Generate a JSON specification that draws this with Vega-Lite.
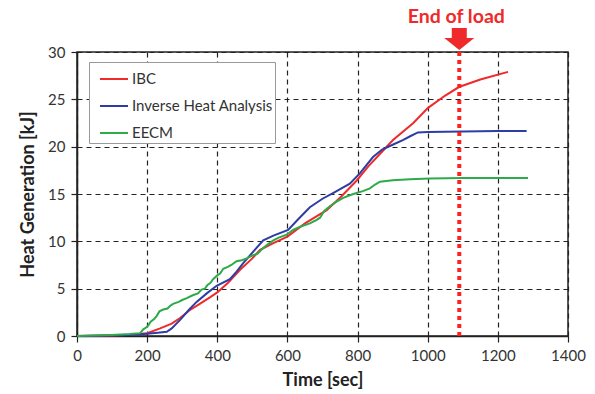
{
  "$schema": "https://vega.github.io/schema/vega-lite/v6.json",
  "autosize": "none",
  "width": 491,
  "height": 284,
  "padding": {"left": 77, "top": 52, "right": 27, "bottom": 58},
  "background": "white",
  "config": {
    "font": "Lato",
    "view": {"stroke": "#222", "strokeWidth": 1.5},
    "axis": {
      "domainColor": "#222", "domainWidth": 1.5,
      "tickColor": "#222", "tickSize": 6, "tickWidth": 1.2,
      "gridColor": "#222", "gridDash": [5, 4], "gridWidth": 1.2,
      "labelColor": "#333", "labelFont": "Lato", "labelFontSize": 15, "labelPadding": 6,
      "titleFont": "Lato", "titleFontSize": 18, "titleFontWeight": "bold", "titleColor": "#222"
    },
    "legend": {
      "labelFont": "Lato", "labelFontSize": 15, "labelColor": "#333"
    }
  },
  "datasets": {
    "curves": [
      {"t": 0, "v": 0, "s": "IBC"}, {"t": 50, "v": 0.02, "s": "IBC"}, {"t": 100, "v": 0.05, "s": "IBC"}, {"t": 150, "v": 0.12, "s": "IBC"}, {"t": 200, "v": 0.3, "s": "IBC"}, {"t": 237, "v": 0.8, "s": "IBC"}, {"t": 270, "v": 1.3, "s": "IBC"}, {"t": 294, "v": 1.9, "s": "IBC"}, {"t": 320, "v": 2.7, "s": "IBC"}, {"t": 350, "v": 3.4, "s": "IBC"}, {"t": 380, "v": 4.1, "s": "IBC"}, {"t": 400, "v": 4.6, "s": "IBC"}, {"t": 430, "v": 5.6, "s": "IBC"}, {"t": 465, "v": 7.0, "s": "IBC"}, {"t": 500, "v": 8.2, "s": "IBC"}, {"t": 522, "v": 9.1, "s": "IBC"}, {"t": 560, "v": 9.8, "s": "IBC"}, {"t": 600, "v": 10.5, "s": "IBC"}, {"t": 650, "v": 11.9, "s": "IBC"}, {"t": 712, "v": 13.3, "s": "IBC"}, {"t": 750, "v": 14.6, "s": "IBC"}, {"t": 797, "v": 16.4, "s": "IBC"}, {"t": 830, "v": 17.9, "s": "IBC"}, {"t": 873, "v": 19.6, "s": "IBC"}, {"t": 901, "v": 20.7, "s": "IBC"}, {"t": 959, "v": 22.5, "s": "IBC"}, {"t": 1001, "v": 24.1, "s": "IBC"}, {"t": 1050, "v": 25.4, "s": "IBC"}, {"t": 1089, "v": 26.3, "s": "IBC"}, {"t": 1150, "v": 27.1, "s": "IBC"}, {"t": 1229, "v": 27.9, "s": "IBC"},
      {"t": 0, "v": 0, "s": "Inverse Heat Analysis"}, {"t": 50, "v": 0.03, "s": "Inverse Heat Analysis"}, {"t": 100, "v": 0.06, "s": "Inverse Heat Analysis"}, {"t": 150, "v": 0.1, "s": "Inverse Heat Analysis"}, {"t": 200, "v": 0.25, "s": "Inverse Heat Analysis"}, {"t": 230, "v": 0.35, "s": "Inverse Heat Analysis"}, {"t": 256, "v": 0.45, "s": "Inverse Heat Analysis"}, {"t": 270, "v": 0.8, "s": "Inverse Heat Analysis"}, {"t": 294, "v": 1.7, "s": "Inverse Heat Analysis"}, {"t": 320, "v": 2.8, "s": "Inverse Heat Analysis"}, {"t": 341, "v": 3.6, "s": "Inverse Heat Analysis"}, {"t": 370, "v": 4.5, "s": "Inverse Heat Analysis"}, {"t": 398, "v": 5.3, "s": "Inverse Heat Analysis"}, {"t": 436, "v": 6.0, "s": "Inverse Heat Analysis"}, {"t": 455, "v": 6.8, "s": "Inverse Heat Analysis"}, {"t": 474, "v": 7.7, "s": "Inverse Heat Analysis"}, {"t": 500, "v": 8.8, "s": "Inverse Heat Analysis"}, {"t": 531, "v": 10.1, "s": "Inverse Heat Analysis"}, {"t": 560, "v": 10.6, "s": "Inverse Heat Analysis"}, {"t": 602, "v": 11.2, "s": "Inverse Heat Analysis"}, {"t": 630, "v": 12.3, "s": "Inverse Heat Analysis"}, {"t": 664, "v": 13.6, "s": "Inverse Heat Analysis"}, {"t": 700, "v": 14.5, "s": "Inverse Heat Analysis"}, {"t": 730, "v": 15.1, "s": "Inverse Heat Analysis"}, {"t": 778, "v": 16.1, "s": "Inverse Heat Analysis"}, {"t": 807, "v": 17.2, "s": "Inverse Heat Analysis"}, {"t": 844, "v": 18.9, "s": "Inverse Heat Analysis"}, {"t": 870, "v": 19.7, "s": "Inverse Heat Analysis"}, {"t": 900, "v": 20.2, "s": "Inverse Heat Analysis"}, {"t": 929, "v": 20.7, "s": "Inverse Heat Analysis"}, {"t": 950, "v": 21.1, "s": "Inverse Heat Analysis"}, {"t": 972, "v": 21.5, "s": "Inverse Heat Analysis"}, {"t": 1000, "v": 21.55, "s": "Inverse Heat Analysis"}, {"t": 1100, "v": 21.6, "s": "Inverse Heat Analysis"}, {"t": 1200, "v": 21.65, "s": "Inverse Heat Analysis"}, {"t": 1282, "v": 21.65, "s": "Inverse Heat Analysis"},
      {"t": 0, "v": 0, "s": "EECM"}, {"t": 50, "v": 0.05, "s": "EECM"}, {"t": 100, "v": 0.1, "s": "EECM"}, {"t": 150, "v": 0.2, "s": "EECM"}, {"t": 180, "v": 0.3, "s": "EECM"}, {"t": 189, "v": 0.7, "s": "EECM"}, {"t": 197, "v": 0.9, "s": "EECM"}, {"t": 203, "v": 1.1, "s": "EECM"}, {"t": 210, "v": 1.5, "s": "EECM"}, {"t": 220, "v": 1.8, "s": "EECM"}, {"t": 227, "v": 2.1, "s": "EECM"}, {"t": 235, "v": 2.6, "s": "EECM"}, {"t": 246, "v": 2.8, "s": "EECM"}, {"t": 258, "v": 2.9, "s": "EECM"}, {"t": 266, "v": 3.2, "s": "EECM"}, {"t": 274, "v": 3.4, "s": "EECM"}, {"t": 290, "v": 3.6, "s": "EECM"}, {"t": 300, "v": 3.8, "s": "EECM"}, {"t": 313, "v": 4.0, "s": "EECM"}, {"t": 330, "v": 4.3, "s": "EECM"}, {"t": 345, "v": 4.5, "s": "EECM"}, {"t": 355, "v": 4.9, "s": "EECM"}, {"t": 365, "v": 5.0, "s": "EECM"}, {"t": 372, "v": 5.4, "s": "EECM"}, {"t": 380, "v": 5.6, "s": "EECM"}, {"t": 388, "v": 6.0, "s": "EECM"}, {"t": 400, "v": 6.4, "s": "EECM"}, {"t": 408, "v": 6.6, "s": "EECM"}, {"t": 417, "v": 7.1, "s": "EECM"}, {"t": 430, "v": 7.3, "s": "EECM"}, {"t": 440, "v": 7.5, "s": "EECM"}, {"t": 455, "v": 7.9, "s": "EECM"}, {"t": 470, "v": 8.0, "s": "EECM"}, {"t": 484, "v": 8.2, "s": "EECM"}, {"t": 500, "v": 8.5, "s": "EECM"}, {"t": 515, "v": 8.7, "s": "EECM"}, {"t": 531, "v": 9.3, "s": "EECM"}, {"t": 545, "v": 9.7, "s": "EECM"}, {"t": 560, "v": 10.1, "s": "EECM"}, {"t": 575, "v": 10.4, "s": "EECM"}, {"t": 598, "v": 10.7, "s": "EECM"}, {"t": 616, "v": 11.2, "s": "EECM"}, {"t": 640, "v": 11.6, "s": "EECM"}, {"t": 664, "v": 11.9, "s": "EECM"}, {"t": 680, "v": 12.2, "s": "EECM"}, {"t": 693, "v": 12.5, "s": "EECM"}, {"t": 705, "v": 13.2, "s": "EECM"}, {"t": 721, "v": 13.7, "s": "EECM"}, {"t": 740, "v": 14.2, "s": "EECM"}, {"t": 759, "v": 14.6, "s": "EECM"}, {"t": 780, "v": 14.9, "s": "EECM"}, {"t": 797, "v": 15.1, "s": "EECM"}, {"t": 815, "v": 15.3, "s": "EECM"}, {"t": 835, "v": 15.6, "s": "EECM"}, {"t": 850, "v": 16.0, "s": "EECM"}, {"t": 864, "v": 16.3, "s": "EECM"}, {"t": 900, "v": 16.45, "s": "EECM"}, {"t": 950, "v": 16.55, "s": "EECM"}, {"t": 1006, "v": 16.65, "s": "EECM"}, {"t": 1100, "v": 16.7, "s": "EECM"}, {"t": 1200, "v": 16.7, "s": "EECM"}, {"t": 1286, "v": 16.7, "s": "EECM"}
    ],
    "marker": [{"t": 1090, "arrowV": 31.37, "textV": 33.1, "label": "End of load"}]
  },
  "layer": [
    {
      "data": {"name": "curves"},
      "mark": {"type": "line", "strokeWidth": 2, "clip": false},
      "encoding": {
        "x": {
          "field": "t", "type": "quantitative",
          "scale": {"domain": [0, 1400], "nice": false},
          "axis": {"title": "Time [sec]", "format": "d", "values": [0, 200, 400, 600, 800, 1000, 1200, 1400], "grid": true, "labelFlush": false, "titlePadding": 8}
        },
        "y": {
          "field": "v", "type": "quantitative",
          "scale": {"domain": [0, 30], "nice": false},
          "axis": {"title": "Heat Generation [kJ]", "values": [0, 5, 10, 15, 20, 25, 30], "grid": true, "titlePadding": 10}
        },
        "color": {
          "field": "s", "type": "nominal",
          "scale": {"domain": ["IBC", "Inverse Heat Analysis", "EECM"], "range": ["#EE2A2A", "#2E3DA3", "#2EAA4A"]},
          "legend": {
            "title": null, "orient": "none", "legendX": 12, "legendY": 10,
            "symbolType": "stroke", "symbolSize": 784, "symbolStrokeWidth": 2,
            "strokeColor": "#999", "fillColor": "white", "padding": 2,
            "rowPadding": 4, "labelOffset": 3, "symbolOffset": 8
          }
        }
      }
    },
    {
      "data": {"name": "marker"},
      "mark": {"type": "rule", "color": "#FF2020", "strokeWidth": 4, "strokeDash": [4, 4]},
      "encoding": {"x": {"field": "t", "type": "quantitative"}}
    },
    {
      "data": {"name": "marker"},
      "mark": {"type": "point", "filled": true, "color": "#EE2A2A", "opacity": 1, "size": 900, "clip": false,
        "shape": "M-0.5,-0.733 L0.5,-0.733 L0.5,-0.067 L1,-0.067 L0,0.733 L-1,-0.067 L-0.5,-0.067 Z"},
      "encoding": {
        "x": {"field": "t", "type": "quantitative"},
        "y": {"field": "arrowV", "type": "quantitative"}
      }
    },
    {
      "data": {"name": "marker"},
      "mark": {"type": "text", "color": "#EE2A2A", "fontSize": 19.5, "fontWeight": "bold", "font": "Lato", "baseline": "alphabetic", "align": "center", "dx": -3, "clip": false},
      "encoding": {
        "x": {"field": "t", "type": "quantitative"},
        "y": {"field": "textV", "type": "quantitative"},
        "text": {"field": "label"}
      }
    }
  ]
}
